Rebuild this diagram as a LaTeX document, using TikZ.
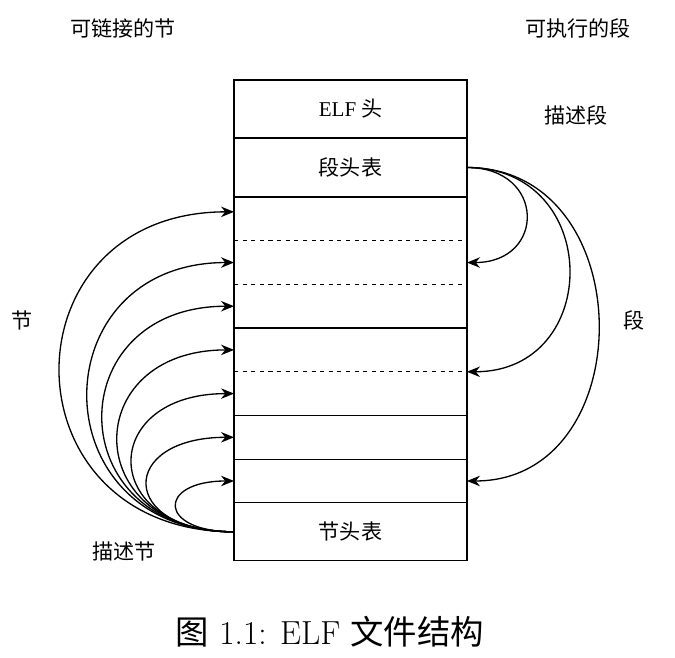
\documentclass[tikz,border=0pt]{standalone}
\usepackage{fontspec}
\newfontfamily\cjk{Noto Sans CJK SC}
\newfontfamily\tms{Liberation Serif}
\usetikzlibrary{arrows.meta, positioning}

\begin{document}
\begin{tikzpicture}[x=0.02cm, y=-0.02cm, line width=0.7pt,
  sec/.style={rectangle, draw=black, minimum width=4.66cm, minimum height=0.874cm,
              outer sep=0pt, inner sep=0pt, font=\cjk\fontsize{12}{14}\selectfont},
  big/.style={sec, minimum height=1.16cm},
  grp/.style={sec, draw=none},
  lbl/.style={font=\cjk\fontsize{12}{14}\selectfont},
  dsh/.style={dash pattern=on 2.3pt off 2.6pt},
  arr/.style={-{Stealth[length=0.26cm, width=0.21cm]}, line width=0.75pt}
]
\useasboundingbox (0,0) rectangle (675,657);

% file layout
\node[big] (elf) at (350.5,109) {{\tms ELF} 头};
\node[big, minimum height=1.18cm, below=0pt of elf] (phdr) {段头表};
\node[grp, below=0pt of phdr] (s1) {};
\node[grp, below=0pt of s1] (s2) {};
\node[grp, below=0pt of s2] (s3) {};
\node[grp, below=0pt of s3] (s4) {};
\node[grp, below=0pt of s4] (s5) {};
\node[sec, below=0pt of s5] (s6) {};
\node[sec, below=0pt of s6] (s7) {};
\node[big, below=0pt of s7] (shdr) {节头表};
\draw (s1.north west) rectangle (s3.south east);
\draw (s4.north west) rectangle (s5.south east);
\draw[dsh] (s1.south west) -- (s1.south east);
\draw[dsh] (s2.south west) -- (s2.south east);
\draw[dsh] (s4.south west) -- (s4.south east);

% labels
\node[lbl] (lnk) at (123,28) {可链接的节};
\node[lbl] (exe) at (578,28) {可执行的段};
\node[lbl] (dseg) at (576,115) {描述段};
\node[lbl] (seg) at (634,320) {段};
\node[lbl] (sect) at (22,320) {节};
\node[lbl] (dsec) at (124,551) {描述节};
\node[font=\fontsize{19}{22}\selectfont] (cap) at (330,632)
  {{\cjk 图} 1.1: ELF {\cjk 文件结构}};

% section header table -> sections
\coordinate (t1) at ([yshift=0.14cm]s1.west);
\foreach \t/\k in {t1/232, s2.west/195, s3.west/175, s4.west/155,
                   s5.west/136, s6.west/116, s7.west/77}
  \draw[arr] (shdr.west) .. controls +(-\k,0) and +(-\k,0) .. (\t);

% program header table -> segments
\draw[arr] (phdr.east) .. controls +(79,0) and +(79,0) .. (s2.east);
\draw[arr] (phdr.east) .. controls +(136,0) and +(136,0) .. (s4.south east);
\draw[arr] (phdr.east) .. controls +(175,0) and +(175,0) .. (s7.east);
\end{tikzpicture}
\end{document}
